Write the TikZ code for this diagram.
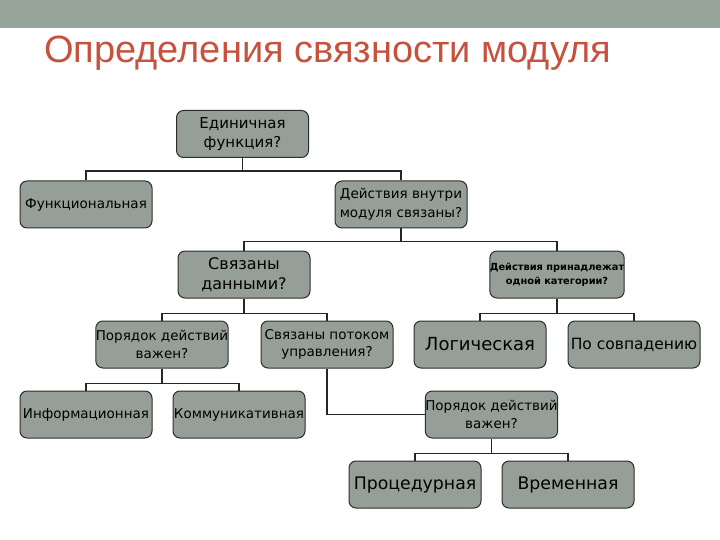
\documentclass[tikz,border=0pt]{standalone}
\usepackage{fontspec}
\setmainfont{DejaVu Sans}
\newfontfamily\titlefont{Liberation Sans}
\definecolor{barcol}{RGB}{150,164,154}
\definecolor{titlecol}{RGB}{198,82,62}
\definecolor{boxfill}{RGB}{149,159,152}
\definecolor{boxline}{RGB}{45,45,45}
\tikzset{
  box/.style={draw=boxline, fill=boxfill, line width=1pt, rounded corners=7pt,
    minimum width=132pt, minimum height=47pt, inner sep=0pt, align=center,
    text=black, font=\fontsize{13.5}{17.5}\selectfont},
  bigtxt/.style={font=\fontsize{17.3}{20}\selectfont},
  wire/.style={line width=1.6pt, draw=black!85}
}
\begin{document}
\begin{tikzpicture}[x=1pt,y=-1pt]
\useasboundingbox (0,0) rectangle (720,540);
\fill[barcol] (0,0) rectangle (720,28);
\node[anchor=base west, inner sep=0pt, text=titlecol, font=\titlefont\fontsize{38}{44}\selectfont] (title) at (44,63) {Определения связности модуля};

\node[box, font=\fontsize{15}{18.5}\selectfont] (n1) at (242.5,134) {Единичная\\функция?};
\node[box] (n2) at (86,204.5) {Функциональная};
\node[box, font=\fontsize{13.5}{19}\selectfont] (n3) at (401,204.5) {Действия внутри\\модуля связаны?};
\node[box, font=\fontsize{16}{20.5}\selectfont] (n4) at (244,274.5) {Связаны\\данными?};
\node[box, font=\bfseries\fontsize{9.8}{14}\selectfont] (n5) at (557,274.5) {Действия принадлежат\\одной категории?};
\node[box] (n6) at (162,344.5) {Порядок действий\\важен?};
\node[box] (n7) at (327,344.5) {Связаны потоком\\управления?};
\node[box, font=\fontsize{18}{20}\selectfont] (n8) at (480,344.5) {Логическая};
\node[box, font=\fontsize{15.5}{18}\selectfont] (n9) at (634,344.5) {По совпадению};
\node[box] (n10) at (86,414.5) {Информационная};
\node[box] (n11) at (239,414.5) {Коммуникативная};
\node[box] (n12) at (491.5,414.5) {Порядок действий\\важен?};
\node[box, bigtxt] (n13) at (415,484.5) {Процедурная};
\node[box, bigtxt] (n14) at (568,484.5) {Временная};

\draw[wire] (n1.south) -- ++(0,13) -| (n2.north);
\draw[wire] (n1.south) -- ++(0,13) -| (n3.north);
\draw[wire] (n3.south) -- ++(0,13) -| (n4.north);
\draw[wire] (n3.south) -- ++(0,13) -| (n5.north);
\draw[wire] (n4.south) -- ++(0,15) -| (n6.north);
\draw[wire] (n4.south) -- ++(0,15) -| (n7.north);
\draw[wire] (n5.south) -- ++(0,15) -| (n8.north);
\draw[wire] (n5.south) -- ++(0,15) -| (n9.north);
\draw[wire] (n6.south) -- ++(0,15) -| (n10.north);
\draw[wire] (n6.south) -- ++(0,15) -| (n11.north);
\draw[wire] (n7.south) |- (n12.west);
\draw[wire] (n12.south) -- ++(0,15) -| (n13.north);
\draw[wire] (n12.south) -- ++(0,15) -| (n14.north);
\end{tikzpicture}
\end{document}
